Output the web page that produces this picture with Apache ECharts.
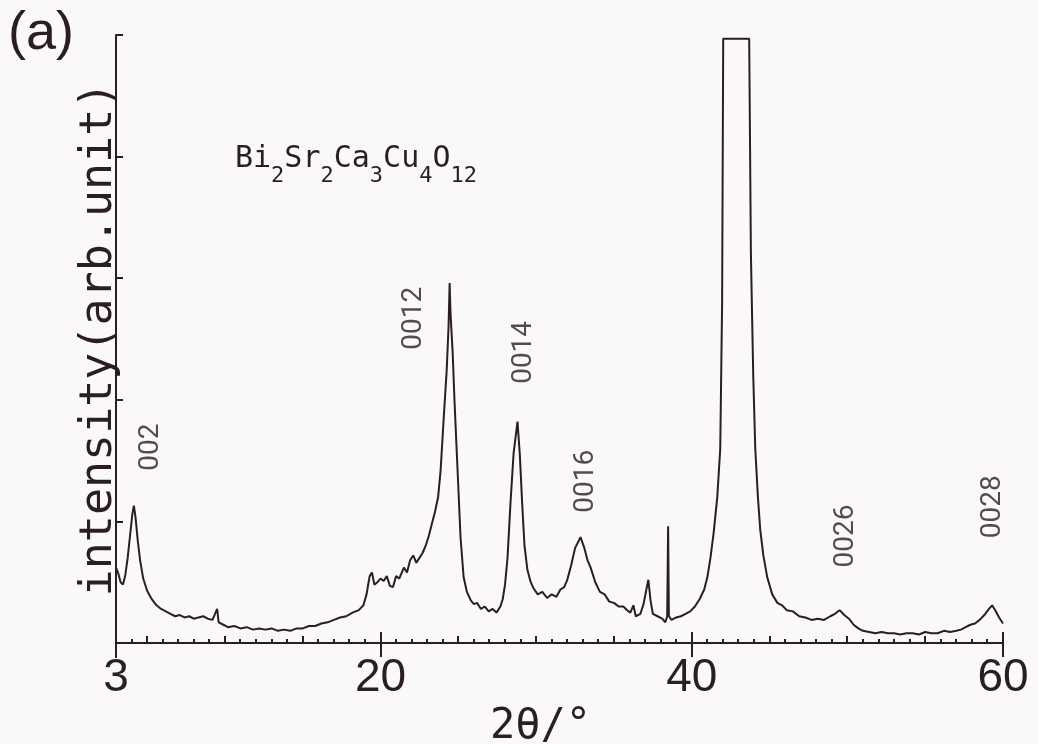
<!DOCTYPE html>
<html>
<head>
<meta charset="utf-8">
<script src="https://cdn.jsdelivr.net/npm/echarts@6/dist/echarts.min.js"></script>
<style>
html,body{margin:0;padding:0;background:#fbf8fa;}
#chart{width:1038px;height:744px;}
</style>
</head>
<body>
<div id="chart"></div>
<script>
// 2-theta (degrees)
var twoTheta = [
3.00,3.15,3.30,3.45,3.60,3.75,3.90,4.05,4.15,4.25,4.40,4.55,4.75,5.00,5.30,5.60,5.90,6.20,6.50,6.80,
7.10,7.40,7.70,8.00,8.30,8.60,8.90,9.20,9.50,9.60,9.90,10.2,10.6,11.0,11.4,11.8,12.2,12.6,13.0,13.4,
13.8,14.2,14.6,15.0,15.4,15.8,16.2,16.6,17.0,17.4,17.8,18.2,18.6,18.9,19.1,19.3,19.45,19.6,19.8,20.0,
20.2,20.4,20.6,20.8,21.0,21.2,21.5,21.7,21.9,22.1,22.3,22.5,22.7,22.9,23.1,23.3,23.5,23.7,23.86,24.05,
24.25,24.37,24.44,24.50,24.63,24.76,24.95,25.14,25.34,25.55,25.8,26.0,26.2,26.45,26.7,26.95,27.2,27.45,27.7,27.85,
28.0,28.16,28.35,28.55,28.80,28.95,29.10,29.25,29.44,29.65,29.83,30.1,30.4,30.7,31.0,31.3,31.56,31.8,32.0,32.25,
32.5,32.85,33.1,33.3,33.5,33.8,34.1,34.4,34.7,35.0,35.3,35.6,35.85,36.05,36.25,36.4,36.7,36.9,37.1,37.21,
37.35,37.5,37.8,38.1,38.3,38.42,38.48,38.53,38.7,39.0,39.3,39.6,39.9,40.2,40.5,40.8,41.0,41.2,41.4,41.64,
41.83,41.95,42.02,43.69,43.80,43.95,44.08,44.25,44.40,44.6,44.85,45.17,45.5,45.8,46.1,46.5,46.9,47.3,47.7,48.1,
48.5,48.9,49.2,49.5,49.8,50.1,50.4,50.7,51.0,51.4,51.8,52.2,52.6,53.0,53.4,53.8,54.2,54.6,55.0,55.4,
55.8,56.2,56.6,57.0,57.3,57.6,57.9,58.2,58.5,58.8,59.1,59.3,59.5,59.75,60.0
];
// intensity (arb. unit)
var intensity = [
0.62,0.57,0.50,0.48,0.56,0.70,0.88,1.06,1.13,1.04,0.84,0.68,0.53,0.43,0.36,0.31,0.28,0.26,0.24,0.22,
0.23,0.21,0.22,0.20,0.21,0.22,0.20,0.19,0.28,0.17,0.15,0.13,0.14,0.12,0.13,0.11,0.12,0.11,0.12,0.10,
0.11,0.10,0.12,0.12,0.14,0.14,0.16,0.17,0.19,0.21,0.22,0.25,0.27,0.31,0.40,0.55,0.58,0.48,0.50,0.53,
0.51,0.55,0.47,0.46,0.55,0.53,0.62,0.58,0.68,0.72,0.66,0.70,0.74,0.80,0.88,0.98,1.08,1.20,1.42,1.83,
2.24,2.60,2.96,2.70,2.40,1.97,1.42,0.87,0.54,0.42,0.35,0.32,0.33,0.28,0.30,0.26,0.28,0.25,0.30,0.36,
0.48,0.70,1.15,1.56,1.82,1.55,1.15,0.80,0.60,0.50,0.45,0.40,0.42,0.37,0.40,0.38,0.44,0.46,0.52,0.64,
0.78,0.87,0.78,0.68,0.62,0.50,0.42,0.40,0.34,0.33,0.30,0.30,0.27,0.25,0.31,0.22,0.24,0.32,0.45,0.52,
0.35,0.24,0.22,0.20,0.17,0.22,0.96,0.22,0.19,0.21,0.22,0.24,0.26,0.30,0.36,0.44,0.54,0.70,0.90,1.20,
1.60,2.80,4.97,4.97,3.20,2.20,1.60,1.20,0.93,0.72,0.54,0.40,0.33,0.31,0.27,0.26,0.22,0.21,0.19,0.20,
0.19,0.22,0.24,0.27,0.23,0.20,0.15,0.12,0.10,0.09,0.08,0.09,0.08,0.08,0.07,0.08,0.08,0.07,0.09,0.08,
0.08,0.10,0.09,0.10,0.11,0.13,0.15,0.16,0.19,0.23,0.28,0.31,0.27,0.21,0.16
];
// peak index labels and their anchor (data coordinates)
var peakNames = ['002', '0012', '0014', '0016', '0026', '0028'];
var peakX = [5.25, 22.13, 29.25, 33.2, 49.92, 59.35];
var peakY = [1.61, 2.67, 2.39, 1.33, 0.88, 1.12];
// axis ticks / labels
var xLabelValues = [3, 20, 40, 60];
var xMajorTicks = [20, 40, 60];
var xMediumTicks = [5, 10, 15, 25, 30, 35, 45, 50, 55];
var xOriginTick = [3];
var xMinorStep = 1;

var ink = '#2a1e22';
var lineData = twoTheta.map(function (x, i) { return [x, intensity[i]]; });
var peakData = peakNames.map(function (n, i) { return { name: n, value: [peakX[i], peakY[i]] }; });

var chart = echarts.init(document.getElementById('chart'), null, { renderer: 'canvas' });

var option = {
  backgroundColor: '#fbf8fa',
  animation: false,
  title: [
    { text: '(a)', left: 3, top: 2,
      textStyle: { fontFamily: 'Liberation Sans', fontSize: 54, fontWeight: 'normal', color: ink } },
    { text: '{m|Bi}{s|2}{m|Sr}{s|2}{m|Ca}{s|3}{m|Cu}{s|4}{m|O}{s|12}', left: 230, top: 139,
      textStyle: {
        fontWeight: 'normal',
        rich: {
          m: { fontFamily: 'DejaVu Sans Mono', fontSize: 30, fontWeight: 'normal', color: ink, verticalAlign: 'top' },
          s: { fontFamily: 'DejaVu Sans Mono', fontSize: 22, fontWeight: 'normal', color: ink, verticalAlign: 'top', padding: [21, 0, 0, 0] }
        }
      } }
  ],
  grid: { left: 116, right: 35, top: 35, bottom: 101, containLabel: false, outerBoundsMode: 'none' },
  xAxis: {
    type: 'value', min: 3, max: 60, interval: 1, position: 'bottom',
    name: '2θ/°', nameLocation: 'middle', nameGap: 50,
    nameTextStyle: { fontFamily: 'DejaVu Sans Mono', fontSize: 42, color: ink, padding: [0, 38, 0, 0] },
    axisLine: { show: true, lineStyle: { color: ink, width: 2 } },
    axisTick: { show: false },
    axisLabel: { show: true, customValues: xLabelValues, margin: 12, fontFamily: 'Liberation Sans', fontSize: 46, color: ink },
    splitLine: { show: false }
  },
  yAxis: {
    type: 'value', min: 0, max: 5, interval: 1,
    name: 'intensity(arb.unit)', nameLocation: 'middle', nameGap: -6,
    nameTextStyle: { fontFamily: 'DejaVu Sans Mono', fontSize: 45, color: ink },
    axisLine: { show: true, lineStyle: { color: ink, width: 2 } },
    axisTick: { show: true, inside: true, length: 7, lineStyle: { color: ink, width: 2 } },
    axisLabel: { show: false },
    splitLine: { show: false }
  },
  series: [
    {
      type: 'line', data: lineData,
      showSymbol: false, symbol: 'none', smooth: false, clip: true,
      lineStyle: { color: ink, width: 2 }
    },
    {
      type: 'scatter', data: peakData,
      symbolSize: 0, silent: true,
      label: { show: true, position: 'inside', rotate: 90, formatter: '{b}',
        fontFamily: 'Roboto', fontSize: 28, color: ink }
    }
  ]
};
chart.setOption(option);

// x-axis tick marks, placed through the axis scale
function tickLine(v, up, down, w) {
  var p = chart.convertToPixel({ xAxisIndex: 0, yAxisIndex: 0 }, [v, 0]);
  var x = Math.round(p[0]);
  var y = p[1];
  return { type: 'line', silent: true, z: 100,
    shape: { x1: x, y1: y - up, x2: x, y2: y + down },
    style: { stroke: ink, lineWidth: w } };
}
var ticks = [];
for (var v = 3; v <= 60; v += xMinorStep) {
  if (xMajorTicks.indexOf(v) < 0 && xMediumTicks.indexOf(v) < 0 && xOriginTick.indexOf(v) < 0) {
    ticks.push(tickLine(v, 4, 0, 2));
  }
}
xMediumTicks.forEach(function (v) { ticks.push(tickLine(v, 7, 0, 2)); });
xMajorTicks.forEach(function (v) { ticks.push(tickLine(v, 11, 14, 2)); });
xOriginTick.forEach(function (v) { ticks.push(tickLine(v, 0, 15, 2)); });
chart.setOption({ graphic: ticks });
</script>
</body>
</html>
